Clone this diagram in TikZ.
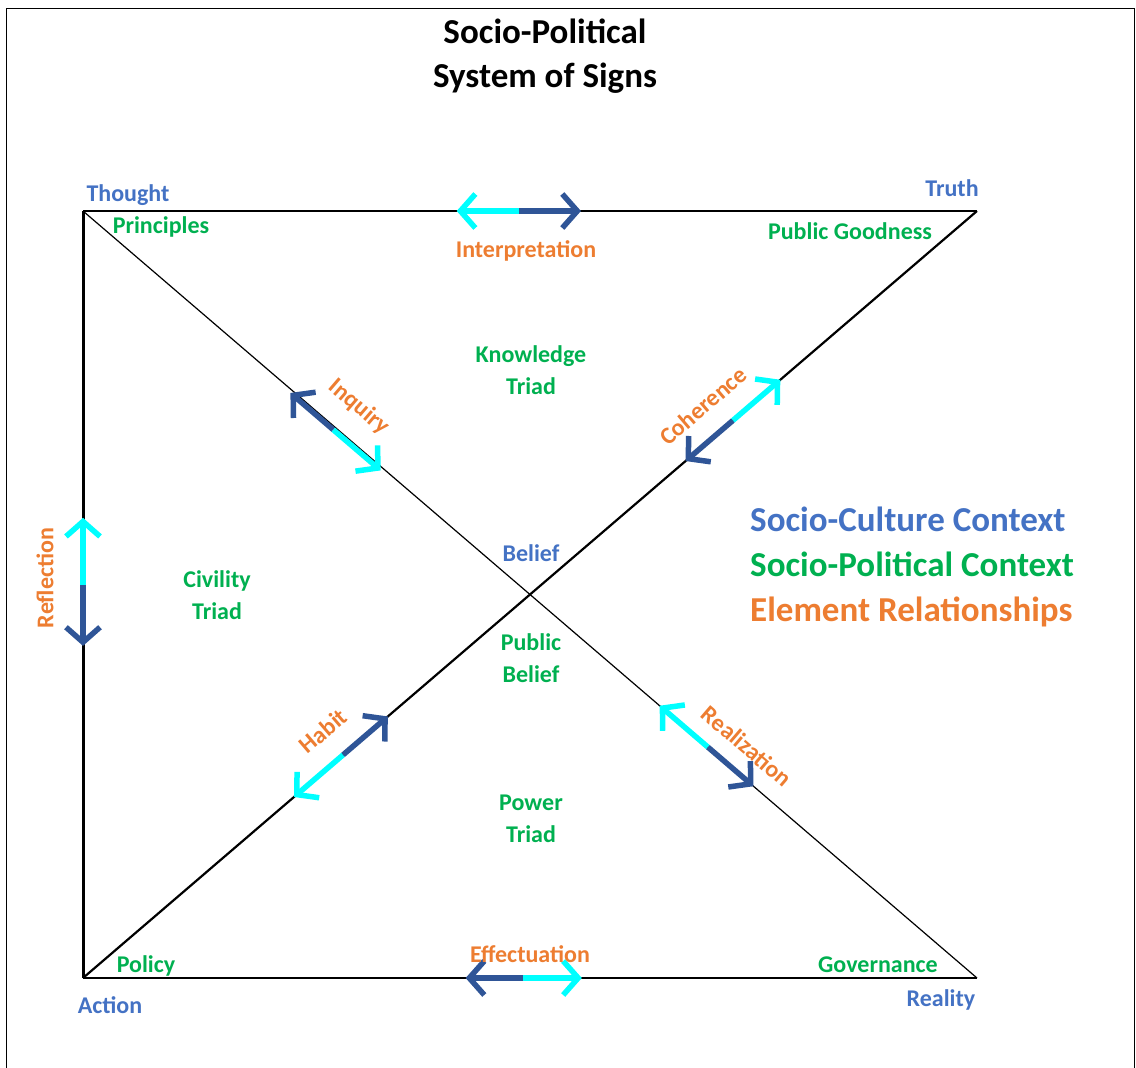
\documentclass[tikz,border=0pt]{standalone}
\usepackage{fontspec}
\setmainfont{Carlito}
\usetikzlibrary{arrows.meta,calc}
\definecolor{ctxblue}{HTML}{4472C4}
\definecolor{ctxgreen}{HTML}{00B050}
\definecolor{relorange}{HTML}{ED7D31}
\definecolor{arrdark}{HTML}{2F5597}
\definecolor{arrcyan}{HTML}{00FFFF}
\begin{document}
\begin{tikzpicture}[x=1pt,y=-1pt,
  lbl/.style={font=\fontsize{24}{32}\selectfont\bfseries,align=center,inner sep=0pt},
  big/.style={font=\fontsize{35}{44}\selectfont\bfseries,align=center,inner sep=0pt},
  cul/.style={lbl,text=ctxblue},
  pol/.style={lbl,text=ctxgreen},
  rel/.style={lbl,text=relorange},
  halfarr/.style={line width=5.5pt,-{Straight Barb[length=15pt,width=34pt]}},
  cyanarr/.style={halfarr,draw=arrcyan},
  darkarr/.style={halfarr,draw=arrdark}]
\useasboundingbox (0,0) rectangle (1136,1068);
\draw[line width=1pt] (6,1075) -- (6,8) -- (1134,8) -- (1134,1075);
\coordinate (thought) at (83,211);
\coordinate (truth) at (977,211);
\coordinate (action) at (83,978);
\coordinate (reality) at (977,978);
\draw[line width=3pt] (thought) -- (action);
\draw[line width=2pt] (thought) -- (truth);
\draw[line width=2pt] (action) -- (reality);
\draw[line width=1.2pt] (thought) -- (reality);
\draw[line width=2.2pt] (action) -- (truth);
\coordinate (interpM) at ($(thought)!0.488!(truth)$);
\coordinate (interpA) at ($(thought)!0.418!(truth)$);
\coordinate (interpB) at ($(thought)!0.557!(truth)$);
\coordinate (effectM) at ($(action)!0.492!(reality)$);
\coordinate (effectA) at ($(action)!0.428!(reality)$);
\coordinate (effectB) at ($(action)!0.558!(reality)$);
\coordinate (reflM) at ($(thought)!0.488!(action)$);
\coordinate (reflA) at ($(thought)!0.400!(action)$);
\coordinate (reflB) at ($(thought)!0.567!(action)$);
\coordinate (inqM) at ($(thought)!0.280!(reality)+(0,4)$);
\coordinate (inqA) at ($(thought)!0.232!(reality)+(0,4)$);
\coordinate (inqB) at ($(thought)!0.333!(reality)+(0,4)$);
\coordinate (realM) at ($(thought)!0.699!(reality)$);
\coordinate (realA) at ($(thought)!0.645!(reality)$);
\coordinate (realB) at ($(thought)!0.750!(reality)$);
\coordinate (cohM) at ($(action)!0.727!(truth)$);
\coordinate (cohA) at ($(action)!0.674!(truth)$);
\coordinate (cohB) at ($(action)!0.780!(truth)$);
\coordinate (habM) at ($(action)!0.291!(truth)$);
\coordinate (habA) at ($(action)!0.236!(truth)$);
\coordinate (habB) at ($(action)!0.341!(truth)$);
\draw[cyanarr] (interpM) -- (interpA);
\draw[darkarr] (interpM) -- (interpB);
\draw[darkarr] (effectM) -- (effectA);
\draw[cyanarr] (effectM) -- (effectB);
\draw[cyanarr] (reflM) -- (reflA);
\draw[darkarr] (reflM) -- (reflB);
\draw[darkarr] (inqM) -- (inqA);
\draw[cyanarr] (inqM) -- (inqB);
\draw[cyanarr] (realM) -- (realA);
\draw[darkarr] (realM) -- (realB);
\draw[darkarr] (cohM) -- (cohA);
\draw[cyanarr] (cohM) -- (cohB);
\draw[cyanarr] (habM) -- (habA);
\draw[darkarr] (habM) -- (habB);
\node[big] (title) at (545,56) {Socio-Political\\System of Signs};
\node[cul,anchor=base] (thoughtlbl) at (128,201) {Thought};
\node[cul,anchor=base] (truthlbl) at (952,196) {Truth};
\node[cul,anchor=base] (actionlbl) at (110,1013) {Action};
\node[cul,anchor=base] (realitylbl) at (941,1006) {Reality};
\node[cul,anchor=base] (belief) at (531,561) {Belief};
\node[pol,anchor=base] (principles) at (161,233) {Principles};
\node[pol,anchor=base] (goodness) at (850,239) {Public Goodness};
\node[pol,anchor=base] (policy) at (146,972) {Policy};
\node[pol,anchor=base] (governance) at (878,972) {Governance};
\node[pol] (knowtriad) at (531,370) {Knowledge\\Triad};
\node[pol] (civtriad) at (217,595) {Civility\\Triad};
\node[pol] (pubbelief) at (531,658) {Public\\Belief};
\node[pol] (powtriad) at (531,819) {Power\\Triad};
\node[rel,anchor=base] (interp) at (526,257) {Interpretation};
\node[rel,anchor=base] (effect) at (530,962) {Effectuation};
\node[rel,rotate=90] (refl) at (45,578) {Reflection};
\node[rel,rotate=-40.6] (inq) at (359,407) {Inquiry};
\node[rel,rotate=40.6] (coh) at (703,406) {Coherence};
\node[rel,rotate=40.6] (hab) at (323,731) {Habit};
\node[rel,rotate=-40.6] (real) at (747,746) {Realization};
\node[big,text=ctxblue,anchor=base west] (legcul) at (750,531) {Socio-Culture Context};
\node[big,text=ctxgreen,anchor=base west] (legpol) at (750,576) {Socio-Political Context};
\node[big,text=relorange,anchor=base west] (legrel) at (750,621) {Element Relationships};
\end{tikzpicture}
\end{document}
